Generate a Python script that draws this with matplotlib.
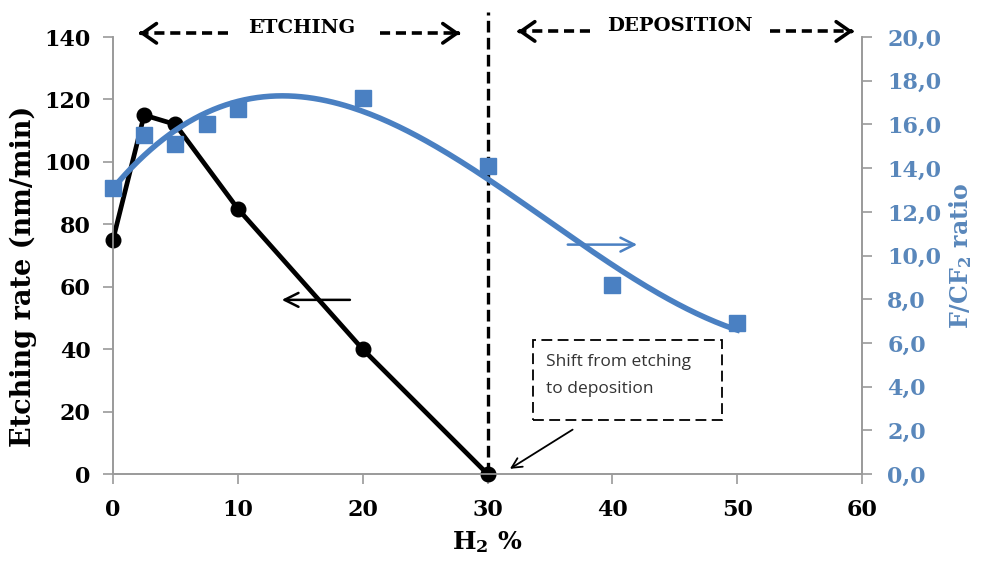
import numpy as np
import matplotlib
matplotlib.use("Agg")
import matplotlib.pyplot as plt
from matplotlib.patches import Rectangle

# Etching rate (left axis)
h2_etch = [0, 2.5, 5, 10, 20, 30]
etch_rate = [75, 115, 112, 85, 40, 0]

# F/CF2 ratio (right axis)
h2_ratio = [0, 2.5, 5, 7.5, 10, 20, 30, 40, 50]
f_cf2 = [13.1, 15.5, 15.1, 16.0, 16.7, 17.2, 14.1, 8.65, 6.9]

black = "#000000"
blue = "#4a80c2"
tick_blue = "#5987bb"
grey = "#9a9a9a"
serif = "DejaVu Serif"
plt.rcParams["mathtext.fontset"] = "dejavuserif"

fig = plt.figure(figsize=(9.82, 5.61), dpi=100)
ax = fig.add_axes([0.115, 0.155, 0.763, 0.779])
ax2 = ax.twinx()

ax.plot(h2_etch, etch_rate, color=black, lw=3.4, marker="o", ms=10.5, zorder=5, clip_on=False)

# 3rd order trend line through the ratio points
coef = np.polyfit(h2_ratio, f_cf2, 3)
xs = np.linspace(0, 50, 200)
ax2.plot(xs, np.polyval(coef, xs), color=blue, lw=4, zorder=3)
ax2.plot(h2_ratio, f_cf2, ls="none", marker="s", ms=11, color=blue, zorder=4, clip_on=False)

ax.set_xlim(0, 60)
ax.set_ylim(0, 140)
ax2.set_ylim(0, 20)
ax.set_xticks(range(0, 61, 10))
ax.set_yticks(range(0, 141, 20))
ax2.set_yticks(np.arange(0, 20.1, 2))
ax2.set_yticklabels([f"{v:.1f}".replace(".", ",") for v in np.arange(0, 20.1, 2)])

for a in (ax, ax2):
    a.spines["top"].set_visible(False)
    for s in ("left", "right", "bottom"):
        a.spines[s].set_color(grey)
        a.spines[s].set_linewidth(1.2)
    a.tick_params(length=7, width=1.2, color=grey)

ax.tick_params(axis="x", labelsize=16, pad=11)
ax.tick_params(axis="y", labelsize=16, pad=9)
for lab in ax.get_xticklabels() + ax.get_yticklabels():
    lab.set_fontfamily(serif)
    lab.set_fontweight("bold")
ax2.tick_params(axis="y", labelsize=16, labelcolor=tick_blue, pad=11)
for lab in ax2.get_yticklabels():
    lab.set_fontfamily(serif)
    lab.set_fontweight("bold")

ax.set_xlabel(r"H$_\mathbf{2}$ %", fontsize=18, fontweight="bold", family=serif, labelpad=6)
ax.set_ylabel("Etching rate (nm/min)", fontsize=19.5, fontweight="bold", family=serif)
ax.yaxis.set_label_coords(-0.101, 0.453)
ax2.set_ylabel(r"F/CF$_\mathbf{2}$ ratio", fontsize=17, fontweight="bold", family=serif,
               color=tick_blue, labelpad=4)

# Boundary between etching and deposition
ax.plot([30, 30], [0, 148], color=black, lw=2.4, ls=(0, (3.5, 1.6)), clip_on=False, zorder=6)

# Region labels with dashed arrows on top
def dashed_arrow(x0, x1, y):
    ax.plot([x0, x1 - 0.3 * np.sign(x1 - x0)], [y, y], color=black, lw=2.6,
            ls=(0, (2.8, 1.6)), clip_on=False)
    ax.annotate("", xy=(x1, y), xytext=(x1 - 0.6 * np.sign(x1 - x0), y),
                arrowprops=dict(arrowstyle="->,head_length=0.5,head_width=0.35", lw=2.6,
                                color=black, mutation_scale=20),
                annotation_clip=False)

dashed_arrow(9.2, 1.9, 141.2)
dashed_arrow(21.4, 28.0, 141.2)
dashed_arrow(38.2, 32.2, 141.8)
dashed_arrow(52.6, 59.5, 141.8)
ax.text(15.1, 142.8, "ETCHING", ha="center", va="center", fontsize=14, fontweight="bold", family=serif)
ax.text(45.4, 143.4, "DEPOSITION", ha="center", va="center", fontsize=14, fontweight="bold", family=serif)

# Axis indicator arrows
ax.annotate("", xy=(13.3, 55.8), xytext=(19.2, 55.8),
            arrowprops=dict(arrowstyle="->", lw=1.8, color=black, mutation_scale=25))
ax2.annotate("", xy=(42.2, 10.5), xytext=(36.2, 10.5),
             arrowprops=dict(arrowstyle="->", lw=1.8, color=blue, mutation_scale=25))

# Annotation box
ax.add_patch(Rectangle((33.6, 17.3), 15.2, 25.6, fill=False, ec=black, lw=1.3,
                       ls=(0, (6, 3)), zorder=6))
ax.text(34.7, 35.9, "Shift from etching", ha="left", va="center", fontsize=12.5,
        family="Open Sans", color="#333333")
ax.text(34.7, 27.4, "to deposition", ha="left", va="center", fontsize=12.5,
        family="Open Sans", color="#333333")
ax.annotate("", xy=(31.6, 1.2), xytext=(37.0, 14.7),
            arrowprops=dict(arrowstyle="->", lw=1.3, color=black, mutation_scale=18))

fig.savefig("out.png", dpi=100)
